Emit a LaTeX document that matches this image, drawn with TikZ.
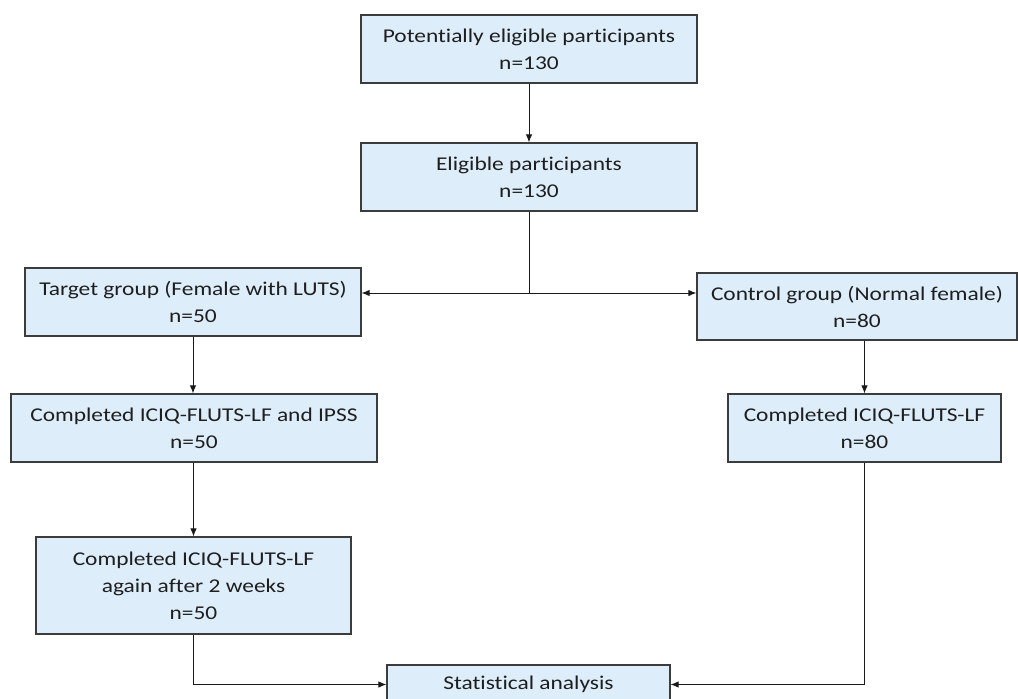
\documentclass[tikz,border=0pt]{standalone}
\usepackage{fontspec}
\setmainfont{Carlito}[FakeStretch=1.2, Ligatures={NoCommon}]
\usetikzlibrary{arrows.meta}

\definecolor{boxfill}{RGB}{221,238,250}
\definecolor{boxline}{RGB}{60,60,60}
\definecolor{txt}{RGB}{30,30,30}

\tikzset{
  box/.style={draw=boxline, fill=boxfill, line width=1.2pt, inner sep=0pt,
    align=center, text=txt, font=\fontsize{19.5}{27}\selectfont},
  arr/.style={-{Latex[length=8pt,width=6.5pt]}, line width=1pt, draw=black!90}
}

\begin{document}
\begin{tikzpicture}[x=1pt,y=-1pt]

\useasboundingbox (0,0) rectangle (1018,699);
\clip (0,0) rectangle (1018,699);

\node[box, minimum width=336pt, minimum height=68pt] (pot) at (529,49) {Potentially eligible participants\\n=130};
\node[box, minimum width=336pt, minimum height=68pt] (elig) at (529,177) {Eligible participants\\n=130};

\node[box, minimum width=336pt, minimum height=68pt] (target) at (193,302) {Target group (Female with LUTS)\\n=50};
\node[box, minimum width=320pt, minimum height=67pt] (control) at (857,306.5) {Control group (Normal female)\\n=80};

\node[box, minimum width=366pt, minimum height=68pt] (compA) at (194,428) {Completed ICIQ-FLUTS-LF and IPSS\\n=50};
\node[box, minimum width=273pt, minimum height=68pt] (compB) at (864.5,428) {Completed ICIQ-FLUTS-LF\\n=80};

\node[box, minimum width=315pt, minimum height=97pt] (again) at (193.5,585.5) {Completed ICIQ-FLUTS-LF\\again after 2 weeks\\n=50};

\node[box, minimum width=283pt, minimum height=39pt] (stat) at (528.5,684.5) {Statistical analysis};

\coordinate (split) at (529,293);

\draw[arr] (pot) -- (elig);
\draw[line width=1pt, draw=black!90] (elig) -- (split);
\draw[arr] (split) -- (split -| target.east);
\draw[arr] (split) -- (split -| control.west);

\draw[arr] (target.south) -- (target.south |- compA.north);
\draw[arr] (compB.north |- control.south) -- (compB.north);
\draw[arr] (compA.south -| again.north) -- (again.north);

\draw[arr] (again.south) |- (stat.west);
\draw[arr] (compB.south) |- (stat.east);

\end{tikzpicture}
\end{document}
